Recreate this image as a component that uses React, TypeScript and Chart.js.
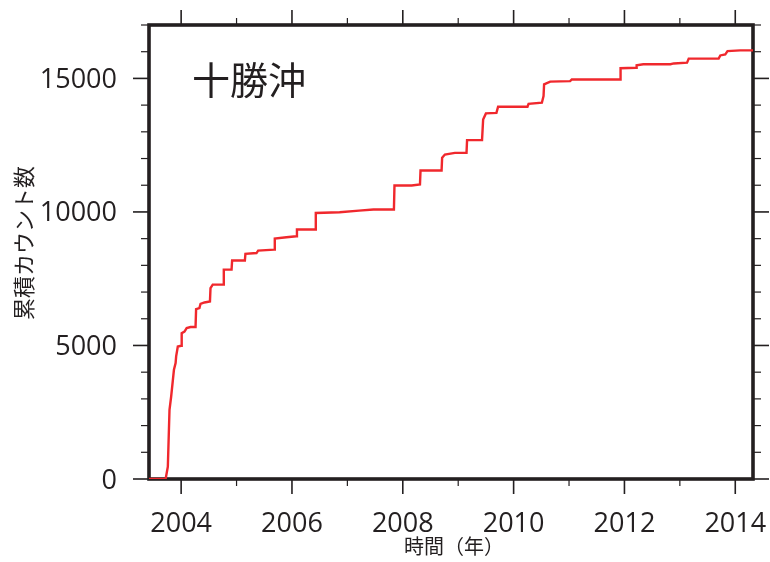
import React, { useEffect, useRef } from "react";
import { Chart, registerables } from "chart.js";

Chart.register(...registerables);

// ---- data ----
const years = [
  2003.42, 2003.72, 2003.76, 2003.79, 2003.82, 2003.87, 2003.9, 2003.91, 2003.94, 2004.0,
  2004.01, 2004.06, 2004.1, 2004.17, 2004.26, 2004.27, 2004.33, 2004.35, 2004.42, 2004.52,
  2004.53, 2004.57, 2004.76, 2004.77, 2004.91, 2004.92, 2005.15, 2005.16, 2005.36, 2005.39,
  2005.68, 2005.69, 2005.9, 2006.08, 2006.09, 2006.42, 2006.43, 2006.86, 2007.21, 2007.47,
  2007.84, 2007.85, 2008.16, 2008.31, 2008.32, 2008.7, 2008.71, 2008.76, 2008.94, 2009.15,
  2009.16, 2009.43, 2009.45, 2009.5, 2009.69, 2009.72, 2010.25, 2010.27, 2010.51, 2010.54,
  2010.55, 2010.66, 2011.02, 2011.05, 2011.92, 2011.93, 2012.21, 2012.22, 2012.34, 2012.83,
  2012.89, 2013.13, 2013.16, 2013.7, 2013.73, 2013.82, 2013.86, 2014.09, 2014.32,
];
const counts = [
  0, 0, 460, 2590, 3090, 4090, 4340, 4590, 4960, 4990,
  5460, 5520, 5650, 5690, 5690, 6360, 6400, 6560, 6610, 6650,
  7150, 7280, 7280, 7840, 7840, 8180, 8180, 8430, 8460, 8550,
  8590, 9000, 9050, 9090, 9340, 9340, 9960, 9990, 10050, 10090,
  10090, 10990, 10990, 11030, 11550, 11550, 12030, 12150, 12210, 12210,
  12690, 12690, 13460, 13690, 13710, 13940, 13940, 14050, 14090, 14340,
  14780, 14880, 14900, 14960, 14960, 15380, 15400, 15490, 15530, 15530,
  15560, 15590, 15740, 15740, 15860, 15900, 16020, 16050, 16050,
];
const xMajorYears = [2004, 2006, 2008, 2010, 2012, 2014];
const xMinorYears = [2004, 2005, 2006, 2007, 2008, 2009, 2010, 2011, 2012, 2013, 2014];
const yMajorValues = [0, 5000, 10000, 15000];
const yMinorValues = [
  0, 1000, 2000, 3000, 4000, 5000, 6000, 7000, 8000, 9000,
  10000, 11000, 12000, 13000, 14000, 15000, 16000, 17000,
];
const regionLabel = "十勝沖";
const xTitle = "時間（年）";
const yTitle = "累積カウント数";

const INK = "#231f20";
const RED = "#f0282d";
const CJK = '"Noto Sans CJK JP", "Noto Sans", sans-serif';
const LATIN = '"Open Sans", "Noto Sans", sans-serif';

const framePlugin = {
  id: "frameAndTicks",
  beforeDatasetsDraw(chart: any) {
    const { ctx, chartArea: a, scales } = chart;
    const xs = scales.x;
    const ys = scales.y;
    ctx.save();
    ctx.strokeStyle = INK;
    const seg = (x1: number, y1: number, x2: number, y2: number, w: number) => {
      ctx.lineWidth = w;
      ctx.beginPath();
      ctx.moveTo(x1, y1);
      ctx.lineTo(x2, y2);
      ctx.stroke();
    };
    for (const v of xMinorYears) {
      const px = xs.getPixelForValue(v);
      const major = xMajorYears.includes(v);
      const len = major ? 15 : 7;
      const w = major ? 1.6 : 1.2;
      seg(px, a.bottom, px, a.bottom + len, w);
      seg(px, a.top, px, a.top - len, w);
    }
    for (const v of yMinorValues) {
      const py = ys.getPixelForValue(v);
      const major = yMajorValues.includes(v);
      const len = major ? 16 : 8;
      const w = major ? 1.6 : 1.2;
      seg(a.left, py, a.left - len, py, w);
      seg(a.right, py, a.right + len, py, w);
    }
    ctx.lineWidth = 3.6;
    ctx.strokeRect(a.left, a.top, a.right - a.left, a.bottom - a.top);

    ctx.fillStyle = INK;
    // tick labels
    ctx.font = `27px ${LATIN}`;
    ctx.textBaseline = "alphabetic";
    ctx.textAlign = "center";
    for (const v of xMajorYears) {
      ctx.fillText(String(v), xs.getPixelForValue(v), a.bottom + 53);
    }
    ctx.textAlign = "right";
    for (const v of yMajorValues) {
      ctx.fillText(String(v), a.left - 32, ys.getPixelForValue(v) + 9.5);
    }

    ctx.textBaseline = "middle";
    ctx.textAlign = "left";
    ctx.font = `38px ${CJK}`;
    ctx.fillText(regionLabel, a.left + 43, a.top + 55);

    ctx.textAlign = "center";
    ctx.font = `20px ${CJK}`;
    ctx.fillText(xTitle, 454, 546);

    ctx.save();
    ctx.translate(24, 243);
    ctx.rotate(-Math.PI / 2);
    ctx.font = `22px ${CJK}`;
    ctx.fillText(yTitle, 0, 0);
    ctx.restore();
    ctx.restore();
  },
};

export default function App() {
  const ref = useRef<HTMLCanvasElement | null>(null);
  useEffect(() => {
    if (!ref.current) return;
    const data = years.map((x, i) => ({ x, y: counts[i] }));
    const chart = new Chart(ref.current, {
      type: "line",
      data: {
        datasets: [
          {
            data,
            borderColor: RED,
            borderWidth: 2.4,
            pointRadius: 0,
            fill: false,
            tension: 0,
          },
        ],
      },
      options: {
        animation: false,
        responsive: false,
        devicePixelRatio: 1,
        layout: { padding: { top: 25, right: 17, left: 0, bottom: 0 } },
        plugins: { legend: { display: false }, tooltip: { enabled: false } },
        scales: {
          x: {
            type: "linear",
            min: 2003.42,
            max: 2014.32,
            grid: { display: false, drawTicks: false },
            border: { display: false },
            afterFit: (s: any) => {
              s.height = 83;
            },
            ticks: { display: false },
          },
          y: {
            type: "linear",
            min: 0,
            max: 17000,
            grid: { display: false, drawTicks: false },
            border: { display: false },
            afterFit: (s: any) => {
              s.width = 149;
            },
            ticks: { display: false },
          },
        },
      },
      plugins: [framePlugin],
    });
    return () => chart.destroy();
  }, []);
  return (
    <canvas
      ref={ref}
      width={770}
      height={562}
      style={{ position: "absolute", left: 0, top: 0, width: 770, height: 562 }}
    />
  );
}
